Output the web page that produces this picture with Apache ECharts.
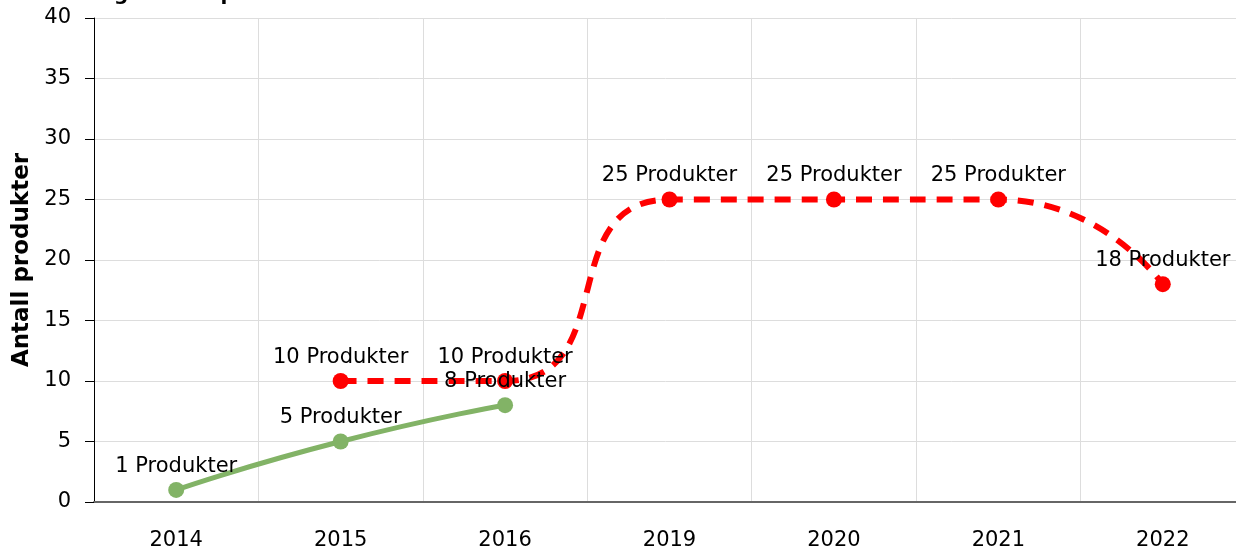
<!DOCTYPE html>
<html>
<head>
<meta charset="utf-8">
<script src="https://cdn.jsdelivr.net/npm/echarts@6/dist/echarts.min.js"></script>
<style>
    html, body { margin: 0; padding: 0; background: #fff; }
    #chart { width: 1236px; height: 554px; }
</style>
</head>
<body>
<div id="chart"></div>
<script>
var years = ['2014', '2015', '2016', '2019', '2020', '2021', '2022'];
var redValues = [null, 10, 10, 25, 25, 25, 18];
var greenValues = [1, 5, 8, null, null, null, null];
var yTicks = {min: 0, max: 40, interval: 5};

var myChart = echarts.init(document.getElementById('chart'));

function labelCfg() {
    return {
        show: true,
        position: 'top',
        distance: 5,
        color: '#000',
        fontSize: 21,
        fontFamily: 'DejaVu Sans',
        formatter: '{c} Produkter'
    };
}

var option = {
    animation: false,
    textStyle: {fontFamily: 'DejaVu Sans'},
    title: {
        text: 'Utvikling i antall produkter',
        left: 22,
        top: -20,
        textStyle: {fontSize: 20, fontWeight: 'bold', color: '#000', fontFamily: 'DejaVu Sans'}
    },
    // grafen går litt ut over høyre kant
    grid: {left: 94, right: -9, top: 18, bottom: 52, outerBoundsMode: 'none'},
    xAxis: {
        type: 'category',
        data: years,
        boundaryGap: true,
        axisLine: {lineStyle: {color: '#666', width: 2}},
        axisTick: {alignWithLabel: true, length: 9, lineStyle: {color: '#999', width: 1}},
        axisLabel: {color: '#000', fontSize: 21, margin: 28},
        splitLine: {show: true, lineStyle: {color: '#ddd', width: 1}}
    },
    yAxis: {
        type: 'value',
        min: yTicks.min,
        max: yTicks.max,
        interval: yTicks.interval,
        name: 'Antall produkter',
        nameLocation: 'middle',
        nameGap: 51,
        nameTextStyle: {fontSize: 23, fontWeight: 'bold', color: '#000'},
        axisLine: {show: true, lineStyle: {color: '#000', width: 1}},
        axisTick: {show: true, length: 9, lineStyle: {color: '#000'}},
        axisLabel: {color: '#000', fontSize: 21, margin: 23},
        splitLine: {lineStyle: {color: '#ddd', width: 1}}
    },
    series: [
        {
            name: 'Rød',
            type: 'line',
            data: redValues,
            smooth: 0.6,
            symbol: 'circle',
            symbolSize: 16,
            itemStyle: {color: '#ff0000'},
            lineStyle: {color: '#ff0000', width: 6, type: [16, 11]},
            label: labelCfg(),
            z: 2
        },
        {
            name: 'Grønn',
            type: 'line',
            data: greenValues,
            smooth: 0.6,
            symbol: 'circle',
            symbolSize: 16,
            itemStyle: {color: '#82b366'},
            lineStyle: {color: '#82b366', width: 5},
            label: labelCfg(),
            z: 3
        }
    ]
};

myChart.setOption(option);
</script>
</body>
</html>
